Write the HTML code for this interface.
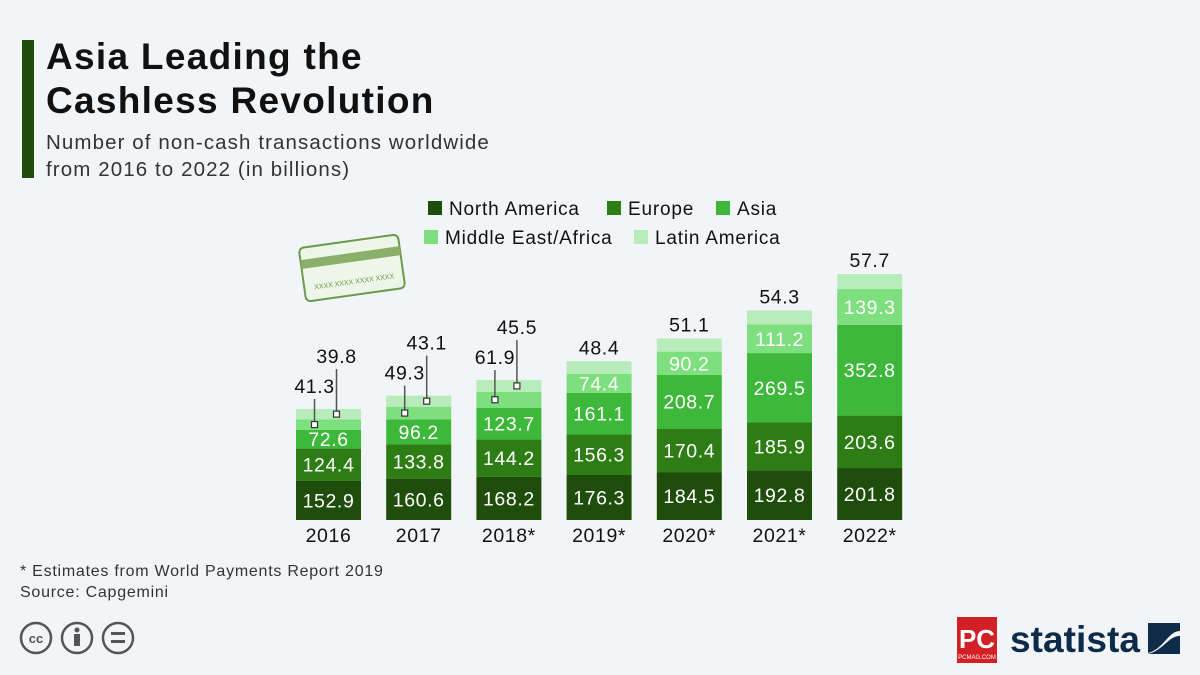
<!DOCTYPE html>
<html><head><meta charset="utf-8"><style>
body{margin:0;background:#f2f5f8;font-family:"Liberation Sans",sans-serif;}
#wrap{position:relative;width:1200px;height:675px;overflow:hidden;background:#f2f5f8;}
.t{position:absolute;color:#111;}
</style></head><body>
<div id="wrap">
<div style="position:absolute;left:22px;top:40px;width:12px;height:138px;background:#1e4d0b"></div>
<div class="t" style="left:46px;top:35px;font-size:37px;font-weight:bold;line-height:44px;letter-spacing:1.3px">Asia Leading the<br>Cashless Revolution</div>
<div class="t" style="left:46px;top:129px;font-size:20.5px;line-height:27px;color:#333;letter-spacing:1.1px">Number of non-cash transactions worldwide<br>from 2016 to 2022 (in billions)</div>
<div class="t" style="left:20px;top:561px;font-size:16px;line-height:21px;color:#333;letter-spacing:0.75px">* Estimates from World Payments Report 2019<br>Source: Capgemini</div>
<svg style="position:absolute;left:0;top:0" width="1200" height="675" id="chart">
<g transform="translate(352,268) rotate(-8)">
<rect x="-50" y="-27" width="100" height="54" rx="5" fill="#eef6ea" stroke="#6a9a4a" stroke-width="2"/>
<rect x="-50" y="-15" width="100" height="9" fill="#8ab06c"/>
<text x="-40" y="16" font-size="7" fill="#6a9a4a" font-family="Liberation Sans">XXXX XXXX XXXX XXXX</text>
</g>
<g id="legend"></g><g id="bars"></g>
<g fill="none" stroke="#555" stroke-width="2.5">
<circle cx="36" cy="638" r="15"/><circle cx="77" cy="638" r="15"/><circle cx="118" cy="638" r="15"/>
<text x="36" y="643" font-size="13" font-weight="bold" text-anchor="middle" fill="#555" stroke="none" font-family="Liberation Sans">cc</text>
<circle cx="77" cy="630" r="2.5" fill="#555" stroke="none"/><rect x="74" y="634" width="6" height="12" fill="#555" stroke="none"/>
<rect x="111" y="632" width="14" height="3" fill="#555" stroke="none"/><rect x="111" y="640" width="14" height="3" fill="#555" stroke="none"/>
</g>
<g>
<rect x="957" y="617" width="40" height="46" fill="#d32027"/>
<text x="977" y="648" font-size="26" font-weight="bold" fill="#fff" text-anchor="middle" font-family="Liberation Sans" textLength="36">PC</text>
<text x="977" y="659" font-size="6" fill="#fff" text-anchor="middle" font-family="Liberation Sans">PCMAG.COM</text>
</g>
<text x="1010" y="652" font-size="37" font-weight="bold" fill="#0e2b49" font-family="Liberation Sans" textLength="130">statista</text>
<path d="M1148 623h32v8c-12 0-16 18-32 22v-30zM1180 636v18h-32c16-4 20-18 32-18z" fill="#0e2b49"/>
</svg>
</div>
<script>
const years=["2016","2017","2018*","2019*","2020*","2021*","2022*"];
const northAmerica=[152.9,160.6,168.2,176.3,184.5,192.8,201.8];
const europe=[124.4,133.8,144.2,156.3,170.4,185.9,203.6];
const asia=[72.6,96.2,123.7,161.1,208.7,269.5,352.8];
const middleEastAfrica=[41.3,49.3,61.9,74.4,90.2,111.2,139.3];
const latinAmerica=[39.8,43.1,45.5,48.4,51.1,54.3,57.7];
const seriesNames=["North America","Europe","Asia","Middle East/Africa","Latin America"];
const colors=["#1f4d0c","#2d7d14","#3db83a","#7ddf7e","#b9ecbb"];
const NS="http://www.w3.org/2000/svg";
const base=520,k=0.2575,x0=296,step=90.2,bw=65;
const y=v=>base-v*k;
const xs=i=>x0+i*step;
function mk(tag,at,parent){const e=document.createElementNS(NS,tag);for(const a in at)e.setAttribute(a,at[a]);parent.appendChild(e);return e;}
const bars=document.getElementById('bars');
const series=[northAmerica,europe,asia,middleEastAfrica,latinAmerica];
years.forEach((yr,i)=>{
  let cum=0;const x=xs(i),cx=x+bw/2;
  const g=mk('g',{},bars);
  
  
  const mids=[];
  series.forEach((s,j)=>{
    const v=s[i];const top=y(cum+v),bot=y(cum);
    const r=mk('rect',{x:x,y:top,width:bw,height:bot-top,fill:colors[j]},g);
    
    
    mids.push((top+bot)/2);
    cum+=v;
    const inside=(j<3)||(j===3&&i>=3);
    if(inside){
      const t=mk('text',{x:cx,y:(top+bot)/2+7,'text-anchor':'middle','font-size':19.5,'letter-spacing':0.6,fill:'#fff','font-family':'Liberation Sans'},g);
      t.textContent=v.toFixed(1);
      
      
    }
  });
  const top=y(cum);
  if(i>=3){
    const t=mk('text',{x:cx,y:top-7,'text-anchor':'middle','font-size':19.5,'letter-spacing':0.6,fill:'#111','font-family':'Liberation Sans'},g);
    t.textContent=latinAmerica[i].toFixed(1);
    
    
  } else {
    const calls=[[3,-14,top-16],[4,8,top-46]];
    calls.forEach(([j,dx,ty])=>{
      const mx=cx+dx,my=mids[j];
      mk('line',{x1:mx,y1:ty+6,x2:mx,y2:my,stroke:'#555','stroke-width':1.5},g);
      mk('rect',{x:mx-3,y:my-3,width:6,height:6,fill:'#fff',stroke:'#333','stroke-width':1.2},g);
      const t=mk('text',{x:mx,y:ty,'text-anchor':'middle','font-size':19.5,'letter-spacing':0.6,fill:'#111','font-family':'Liberation Sans'},g);
      t.textContent=series[j][i].toFixed(1);
      
      
    });
  }
  const xl=mk('text',{x:cx,y:base+22,'text-anchor':'middle','font-size':19.5,'letter-spacing':0.6,fill:'#111','font-family':'Liberation Sans'},g);
  xl.textContent=yr;
  
  
});
const lg=document.getElementById('legend');
const lpos=[[428,208],[607,208],[716,208],[424,237],[634,237]];
seriesNames.forEach((n,j)=>{
  const g=mk('g',{},lg);
  
  
  const [lx,ly]=lpos[j];
  mk('rect',{x:lx,y:ly-7,width:14,height:14,fill:colors[j]},g);
  const t=mk('text',{x:lx+21,y:ly+7,'font-size':19,'letter-spacing':0.8,fill:'#111','font-family':'Liberation Sans'},g);
  t.textContent=n;
});
</script>
</body></html>
